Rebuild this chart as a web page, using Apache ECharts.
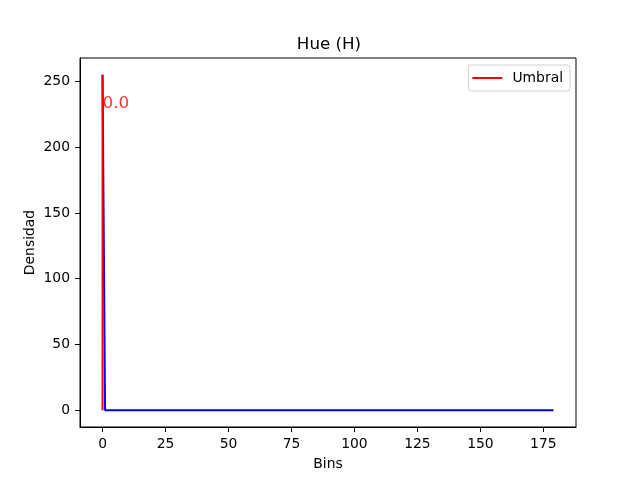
<!DOCTYPE html>
<html>
<head>
<meta charset="utf-8">
<script src="https://cdn.jsdelivr.net/npm/echarts@6/dist/echarts.min.js"></script>
<style>
html, body { margin: 0; padding: 0; background: #fff; }
#chart { width: 640px; height: 480px; }
</style>
</head>
<body>
<div id="chart"></div>
<script>
// histograma de Hue: 180 bins
var bins = [];
for (var b = 0; b < 180; b++) bins.push(b);
var densidad = [
	255, 0, 0, 0, 0, 0, 0, 0, 0, 0, 0, 0, 0, 0, 0, 0, 0, 0, 0, 0,
	0, 0, 0, 0, 0, 0, 0, 0, 0, 0, 0, 0, 0, 0, 0, 0, 0, 0, 0, 0,
	0, 0, 0, 0, 0, 0, 0, 0, 0, 0, 0, 0, 0, 0, 0, 0, 0, 0, 0, 0,
	0, 0, 0, 0, 0, 0, 0, 0, 0, 0, 0, 0, 0, 0, 0, 0, 0, 0, 0, 0,
	0, 0, 0, 0, 0, 0, 0, 0, 0, 0, 0, 0, 0, 0, 0, 0, 0, 0, 0, 0,
	0, 0, 0, 0, 0, 0, 0, 0, 0, 0, 0, 0, 0, 0, 0, 0, 0, 0, 0, 0,
	0, 0, 0, 0, 0, 0, 0, 0, 0, 0, 0, 0, 0, 0, 0, 0, 0, 0, 0, 0,
	0, 0, 0, 0, 0, 0, 0, 0, 0, 0, 0, 0, 0, 0, 0, 0, 0, 0, 0, 0,
	0, 0, 0, 0, 0, 0, 0, 0, 0, 0, 0, 0, 0, 0, 0, 0, 0, 0, 0, 0
];
// umbral (linea roja vertical)
var umbralX = [0.0, 0.0];
var umbralY = [0, 255];
var umbralTexto = '0.0';
var umbralTextoY = 230;

var xTicks = [0, 25, 50, 75, 100, 125, 150, 175];
var yTicks = [0, 50, 100, 150, 200, 250];

var byId = function(id) {
	return document.getElementById(id);
};

var histData = bins.map(function(x, i) { return [x, densidad[i]]; });
var umbralData = umbralX.map(function(x, i) { return [x, umbralY[i]]; });

var font = 'DejaVu Sans';
var chart = echarts.init(byId('chart'));
chart.setOption({
	animation: false,
	backgroundColor: '#fff',
	title: {
		text: 'Hue (H)',
		left: 324,
		textAlign: 'center',
		top: 31,
		textStyle: { fontFamily: font, fontSize: 16.7, fontWeight: 'normal', color: '#000' }
	},
	legend: {
		right: 70,
		top: 65,
		data: ['Umbral'],
		itemWidth: 30,
		itemHeight: 2,
		itemGap: 10,
		padding: [6, 7, 6, 4],
		borderColor: '#d0d0d0',
		borderWidth: 1,
		borderRadius: 3,
		backgroundColor: '#fff',
		icon: 'rect',
		textStyle: { fontFamily: font, fontSize: 13.9, color: '#000', padding: [0, 0, 0, 5] }
	},
	grid: {
		left: 80,
		right: 64,
		top: 58,
		bottom: 53,
		show: true,
		borderColor: '#000',
		borderWidth: 1,
		containLabel: false
	},
	xAxis: {
		type: 'value',
		min: -8.95,
		max: 187.95,
		name: 'Bins',
		nameLocation: 'middle',
		nameGap: 30,
		nameMoveOverlap: false,
		nameTextStyle: { fontFamily: font, fontSize: 13.9, color: '#000' },
		axisLine: { show: true, onZero: false, lineStyle: { color: '#000', width: 1 } },
		splitLine: { show: false },
		axisTick: { show: true, inside: false, length: 5, customValues: xTicks, lineStyle: { color: '#000' } },
		axisLabel: { customValues: xTicks, fontFamily: font, fontSize: 13.9, color: '#000', margin: 10 }
	},
	yAxis: {
		type: 'value',
		min: -12.75,
		max: 267.75,
		name: 'Densidad',
		nameLocation: 'middle',
		nameGap: 43,
		nameMoveOverlap: false,
		nameTextStyle: { fontFamily: font, fontSize: 13.9, color: '#000' },
		axisLine: { show: true, onZero: false, lineStyle: { color: '#000', width: 1 } },
		splitLine: { show: false },
		axisTick: { show: true, inside: false, length: 5, customValues: yTicks, lineStyle: { color: '#000' } },
		axisLabel: { customValues: yTicks, fontFamily: font, fontSize: 13.9, color: '#000', margin: 10 }
	},
	series: [{
		name: 'Hist',
		type: 'line',
		data: histData,
		showSymbol: false,
		lineStyle: { color: '#0000ff', width: 2 },
		itemStyle: { color: '#0000ff' },
		z: 2
	}, {
		name: 'Umbral',
		type: 'line',
		data: umbralData,
		showSymbol: false,
		lineStyle: { color: '#ff0000', width: 2 },
		itemStyle: { color: '#ff0000' },
		z: 3
	}, {
		name: 'texto',
		type: 'scatter',
		data: [[umbralX[0], umbralTextoY]],
		symbolSize: 0,
		silent: true,
		label: {
			show: true,
			formatter: umbralTexto,
			position: [0, 5],
			align: 'left',
			verticalAlign: 'bottom',
			fontFamily: font,
			fontSize: 16.7,
			color: '#ff0000'
		},
		z: 4
	}]
});
</script>
</body>
</html>
